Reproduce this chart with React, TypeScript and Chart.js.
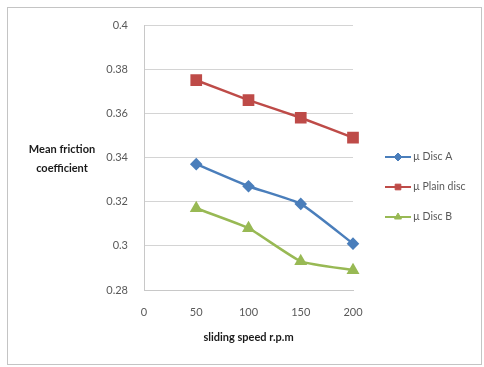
import React, { useEffect, useRef } from "react";
import { Chart, registerables } from "chart.js";
import { drawPoint } from "chart.js/helpers";

Chart.register(...registerables);

const speeds = [50, 100, 150, 200];
const discA = [0.337, 0.327, 0.319, 0.301];
const plainDisc = [0.375, 0.366, 0.358, 0.349];
const discB = [0.317, 0.308, 0.293, 0.289];
const seriesLabels = ["\u00b5 Disc A", "\u00b5 Plain disc", "\u00b5 Disc B"];
const yTitleLines = ["Mean friction", "coefficient"];
const xTitle = "sliding speed r.p.m";

const FONT = "Lato, 'Open Sans', sans-serif";

const framePlugin = {
  id: "frame",
  beforeDraw(chart: any) {
    const ctx = chart.ctx;
    ctx.save();
    ctx.fillStyle = "#ffffff";
    ctx.fillRect(0, 0, chart.width, chart.height);
    ctx.strokeStyle = "#c4c4c4";
    ctx.lineWidth = 1;
    ctx.strokeRect(7.5, 7.5, chart.width - 10, chart.height - 10);
    ctx.restore();
  },
  afterDraw(chart: any) {
    const ctx = chart.ctx;
    ctx.save();
    ctx.fillStyle = "#1a1a1a";
    ctx.font = `bold 11px ${FONT}`;
    ctx.textAlign = "center";
    ctx.textBaseline = "middle";
    yTitleLines.forEach((t, i) => ctx.fillText(t, 62, 149 + i * 19));
    const x0 = 385;
    const rows = [157, 187, 217];
    chart.data.datasets.forEach((ds: any, i: number) => {
      const y = rows[i];
      ctx.strokeStyle = ds.borderColor;
      ctx.lineWidth = 2;
      ctx.beginPath();
      ctx.moveTo(x0, y);
      ctx.lineTo(x0 + 26, y);
      ctx.stroke();
      ctx.fillStyle = ds.backgroundColor;
      ctx.strokeStyle = ds.borderColor;
      ctx.lineWidth = 1;
      drawPoint(ctx, { pointStyle: ds.pointStyle, radius: 4, borderWidth: 1, rotation: 0 }, x0 + 13, y);
      ctx.fillStyle = "#595959";
      ctx.font = `10.5px ${FONT}`;
      ctx.textAlign = "left";
      ctx.fillText(ds.label, x0 + 28, y);
    });
    ctx.restore();
  },
};

export default function App() {
  const ref = useRef<HTMLCanvasElement>(null);
  useEffect(() => {
    document.body.style.margin = "0";
    const mk = (vals: number[]) => speeds.map((s, i) => ({ x: s, y: vals[i] }));
    const chart = new Chart(ref.current!, {
      type: "line",
      data: {
        datasets: [
          {
            label: seriesLabels[0],
            data: mk(discA),
            borderColor: "#4A7EBB",
            backgroundColor: "#4A7EBB",
            pointStyle: "rectRot",
            pointRadius: 4.5,
            borderWidth: 2.5,
            tension: 0.15,
            clip: false,
          },
          {
            label: seriesLabels[1],
            data: mk(plainDisc),
            borderColor: "#BE4B48",
            backgroundColor: "#BE4B48",
            pointStyle: "rect",
            pointRadius: 6.5,
            borderWidth: 2.5,
            tension: 0.15,
            clip: false,
          },
          {
            label: seriesLabels[2],
            data: mk(discB),
            borderColor: "#98B954",
            backgroundColor: "#98B954",
            pointStyle: "triangle",
            pointRadius: 5,
            borderWidth: 2.5,
            tension: 0.15,
            clip: false,
          },
        ] as any,
      },
      options: {
        animation: false,
        responsive: false,
        layout: { padding: { left: 0, right: 131, top: 25, bottom: 0 } },
        plugins: { legend: { display: false }, tooltip: { enabled: false } },
        scales: {
          x: {
            type: "linear",
            min: 0,
            max: 200,
            ticks: { stepSize: 50, padding: 16, color: "#595959", font: { family: FONT, size: 11 } },
            grid: { display: false, drawTicks: false },
            border: { display: true, color: "#c8c8c8" },
            title: {
              display: true,
              text: xTitle,
              color: "#1a1a1a",
              font: { family: FONT, size: 11, weight: "bold" },
              padding: { top: 0, bottom: 23 },
            },
            afterFit(scale: any) {
              scale.height = 77;
            },
          },
          y: {
            min: 0.28,
            max: 0.4,
            ticks: {
              stepSize: 0.02,
              padding: 16,
              color: "#595959",
              font: { family: FONT, size: 11 },
              callback: (v: any) => String(Math.round(Number(v) * 100) / 100),
            },
            grid: { color: "#d4d4d4", drawTicks: false },
            border: { display: true, color: "#c8c8c8" },
            afterFit(scale: any) {
              scale.width = 144;
            },
          },
        },
      },
      plugins: [framePlugin],
    });
    return () => chart.destroy();
  }, []);
  return <canvas ref={ref} width={484} height={367} style={{ display: "block" }} />;
}
